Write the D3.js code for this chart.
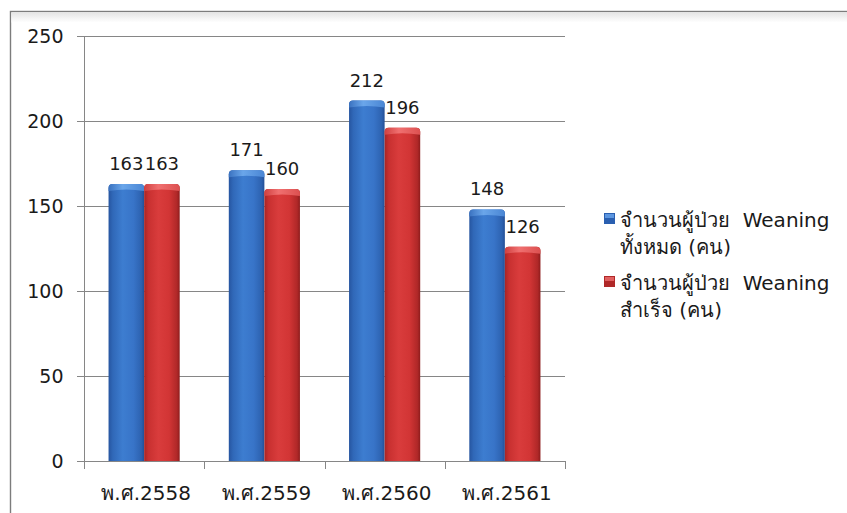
<!DOCTYPE html>
<html>
<head>
<meta charset="utf-8">
<script src="https://cdn.jsdelivr.net/npm/d3@7"></script>
<style>
  html, body { margin: 0; padding: 0; background: #ffffff; }
  svg { display: block; }
  text { font-family: "DejaVu Sans", "Noto Sans", sans-serif; fill: #1a1a1a; }
</style>
</head>
<body>
<svg id="chart" width="847" height="513"></svg>
<script>
// Data
const years = ["พ.ศ.2558", "พ.ศ.2559", "พ.ศ.2560", "พ.ศ.2561"];
const totalPatients = [163, 171, 212, 148];
const successPatients = [163, 160, 196, 126];
const legendLines = [["จำนวนผู้ป่วย  Weaning", "ทั้งหมด (คน)"], ["จำนวนผู้ป่วย  Weaning", "สำเร็จ (คน)"]];
const yTicks = [0, 50, 100, 150, 200, 250];

const svg = d3.select("#chart");
const W = 847, H = 513;

// Outer frame
svg.append("rect").attr("x", 10.5).attr("y", 11.5).attr("width", W).attr("height", H)
  .attr("fill", "#fff").attr("stroke", "#7c7c7c").attr("stroke-width", 1.4);
const defs = svg.append("defs");
const shadowGrad = defs.append("linearGradient").attr("id", "topShadow").attr("x1", 0).attr("y1", 0).attr("x2", 0).attr("y2", 1);
shadowGrad.append("stop").attr("offset", "0%").attr("stop-color", "#e4e4e4");
shadowGrad.append("stop").attr("offset", "100%").attr("stop-color", "#ffffff");
svg.append("rect").attr("x", 11.5).attr("y", 12.5).attr("width", W).attr("height", 10).attr("fill", "url(#topShadow)");

const plot = { left: 84, right: 565, top: 36, bottom: 461 };

const x = d3.scaleBand().domain(years).range([plot.left, plot.right]).paddingInner(0).paddingOuter(0);
const y = d3.scaleLinear().domain([0, 250]).range([plot.bottom, plot.top]);
const sub = d3.scaleBand().domain([0, 1]).range([0, x.bandwidth()]).paddingOuter(0.69).paddingInner(0);

// Gridlines
svg.append("g").selectAll("line").data(yTicks).join("line")
  .attr("x1", plot.left - 7).attr("x2", plot.right)
  .attr("y1", d => Math.round(y(d)) + 0.5).attr("y2", d => Math.round(y(d)) + 0.5)
  .attr("stroke", "#868686").attr("stroke-width", 1);

// Y axis
const yAxis = d3.axisLeft(y).tickValues(yTicks).tickSize(7).tickPadding(14);
const gy = svg.append("g").attr("transform", `translate(${plot.left + 0.5},0)`).call(yAxis);
gy.select(".domain").remove();
gy.selectAll(".tick line").attr("stroke", "#868686");
gy.selectAll(".tick text").attr("font-size", 19).attr("fill", "#1a1a1a")
  .style("font-family", "'DejaVu Sans', sans-serif");
svg.append("line").attr("x1", plot.left + 0.5).attr("x2", plot.left + 0.5)
  .attr("y1", plot.top).attr("y2", plot.bottom + 8).attr("stroke", "#868686");

// X axis with tick marks at band boundaries
svg.append("line").attr("x1", plot.left).attr("x2", plot.right)
  .attr("y1", plot.bottom + 0.5).attr("y2", plot.bottom + 0.5).attr("stroke", "#868686");
const bounds = years.map(d => x(d) + x.bandwidth());
svg.append("g").selectAll("line").data(bounds).join("line")
  .attr("x1", d => Math.round(d) + 0.5).attr("x2", d => Math.round(d) + 0.5)
  .attr("y1", plot.bottom).attr("y2", plot.bottom + 8).attr("stroke", "#868686");
svg.append("g").selectAll("text").data(years).join("text")
  .attr("x", d => x(d) + x.bandwidth() / 2 + 2)
  .attr("y", plot.bottom + 39)
  .attr("text-anchor", "middle").attr("font-size", 20)
  .text(d => d);

// Bar gradients (cylindrical shading)
function bodyGrad(id, stops) {
  const g = defs.append("linearGradient").attr("id", id).attr("x1", 0).attr("x2", 1).attr("y1", 0).attr("y2", 0);
  stops.forEach(s => g.append("stop").attr("offset", s[0]).attr("stop-color", s[1]));
}
bodyGrad("blueBody", [["0%", "#2655a0"], ["12%", "#3068b8"], ["40%", "#3d7dd0"], ["70%", "#3874c8"], ["92%", "#2d62b0"], ["100%", "#244f96"]]);
bodyGrad("redBody", [["0%", "#a82424"], ["12%", "#c83030"], ["40%", "#d93c3c"], ["70%", "#d23535"], ["92%", "#b02828"], ["100%", "#8e1c1c"]]);
bodyGrad("blueCap", [["0%", "#3a72c0"], ["40%", "#6aa6ea"], ["100%", "#4a86d4"]]);
bodyGrad("redCap", [["0%", "#d04040"], ["40%", "#f07070"], ["100%", "#dc5050"]]);

const series = [
  { values: totalPatients, body: "url(#blueBody)", cap: "url(#blueCap)" },
  { values: successPatients, body: "url(#redBody)", cap: "url(#redCap)" }
];

series.forEach((s, si) => {
  const g = svg.append("g");
  const data = years.map((yr, i) => ({ yr, v: s.values[i] }));
  const bx = d => x(d.yr) + sub(si);
  const bw = sub.bandwidth();
  g.selectAll("path.body").data(data).join("path")
    .attr("class", "body")
    .attr("d", d => {
      const x0 = bx(d), x1 = x0 + bw, y0 = y(d.v), yb = y(0), r = 4;
      return `M${x0},${yb} L${x0},${y0 + r} Q${x0},${y0} ${x0 + r},${y0} L${x1 - r},${y0} Q${x1},${y0} ${x1},${y0 + r} L${x1},${yb} Z`;
    })
    .attr("fill", s.body);
  // lighter bevelled top
  g.selectAll("path.cap").data(data).join("path")
    .attr("class", "cap")
    .attr("d", d => {
      const x0 = bx(d), x1 = x0 + bw, y0 = y(d.v), r = 4, h = 7;
      return `M${x0},${y0 + h} L${x0},${y0 + r} Q${x0},${y0} ${x0 + r},${y0} L${x1 - r},${y0} Q${x1},${y0} ${x1},${y0 + r} L${x1},${y0 + h} Q${(x0 + x1) / 2},${y0 + h - 3} ${x0},${y0 + h} Z`;
    })
    .attr("fill", s.cap);
  // value labels
  g.selectAll("text").data(data).join("text")
    .attr("x", d => bx(d) + bw / 2)
    .attr("y", d => y(d.v) - 14)
    .attr("text-anchor", "middle").attr("font-size", 18)
    .text(d => d.v);
});

// Legend
const legend = svg.append("g");
const legendColors = [["#2a5fb0", "#5c96e0"], ["#b02828", "#e06060"]];
legendLines.forEach((lines, i) => {
  const base = 227 + i * 63;
  legend.append("rect").attr("x", 604).attr("y", base - 14).attr("width", 11).attr("height", 11)
    .attr("fill", legendColors[i][0]);
  legend.append("rect").attr("x", 605).attr("y", base - 13).attr("width", 9).attr("height", 4)
    .attr("fill", legendColors[i][1]);
  lines.forEach((ln, j) => {
    legend.append("text").attr("x", 620).attr("y", base + j * 27)
      .attr("font-size", 20).attr("xml:space", "preserve").style("white-space", "pre").text(ln);
  });
});
</script>
</body>
</html>
